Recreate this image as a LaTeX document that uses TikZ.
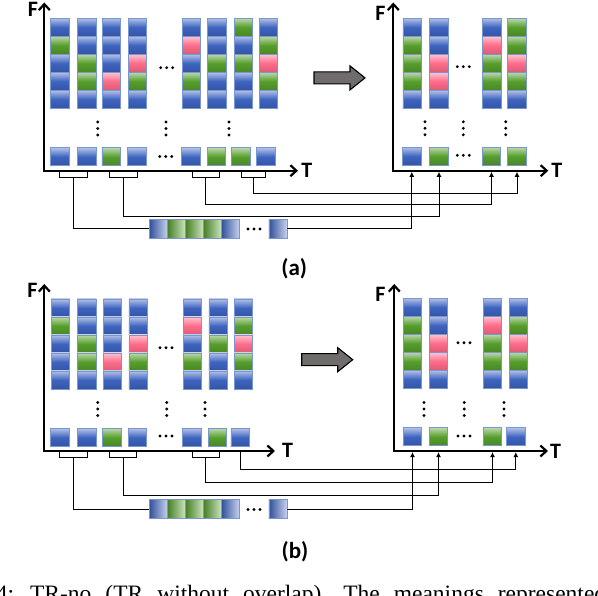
\documentclass[tikz,border=0pt]{standalone}
\usepackage{fontspec}
\setmainfont{Liberation Serif}
\newfontfamily\labfont{Carlito}
\usetikzlibrary{arrows.meta}
\definecolor{bl}{RGB}{62,100,192}
\definecolor{gr}{RGB}{86,158,44}
\definecolor{pk}{RGB}{255,108,138}
\definecolor{celledge}{RGB}{120,150,210}
\definecolor{arrowgray}{RGB}{112,108,108}

% one column of five cells, top to bottom
\newcommand\mycol[4]{%
  \foreach \col [count=\j] in {#4}
    \node[cell=\col] (#1-\j) at (#2,{#3+18*(\j-1)}) {};%
}
\newcommand\mydotsh[2]{%
  \foreach \k in {-6,0,6} \fill ({#1+\k},#2) circle (1.6pt);%
}
\newcommand\mydotsv[2]{%
  \foreach \k in {-6.5,0,6.5} \fill (#1,{#2+\k}) circle (1.6pt);%
}
\newcommand\mybigarrow[2]{%
  \draw[bigarrow] (#1,#2) ++(0,-6) -- ++(36,0) -- ++(0,-6) -- ++(15,12)
    -- ++(-15,12) -- ++(0,-6) -- ++(-36,0) -- cycle;%
}

\begin{document}
\begin{tikzpicture}[x=1pt,y=-1pt,
    cell/.style={draw=celledge,line width=0.6pt,inner sep=0pt,
      minimum width=18.5pt,minimum height=18pt,
      top color=#1!40!white,bottom color=#1!85!black,middle color=#1},
    strip/.style={draw=celledge,line width=0.6pt,inner sep=0pt,
      minimum width=18pt,minimum height=19pt,
      left color=#1!80!black,right color=#1!30!white},
    bracket/.style={minimum height=6pt,inner sep=0pt,minimum width=#1},
    axis/.style={line width=2.2pt,<->,>={Straight Barb[length=6pt,width=11pt]}},
    conn/.style={line width=1pt},
    link/.style={conn,-{Latex[length=5pt,width=5pt]},shorten >=1.1pt},
    axlabel/.style={font=\labfont\bfseries\fontsize{22}{22}\selectfont,inner sep=0pt},
    sublabel/.style={font=\labfont\bfseries\fontsize{23}{23}\selectfont,inner sep=0pt},
    bigarrow/.style={draw,line width=1.1pt,fill=arrowgray}]
    \useasboundingbox (0,0) rectangle (598,596);
    \clip (0,0) rectangle (598,596);

    % (a) left: frames before
    \coordinate (al0) at (44.3,170.7);
    \coordinate (alF) at (44.3,2.5);
    \coordinate (alT) at (298,170.7);
    \draw[axis] (alF) |- (alT);
    \node[axlabel] (alFl) at (32.8,9) {F};
    \node[axlabel] (alTl) at (306.7,170.8) {T};

    \mycol{al1}{60}{27.3}{bl,gr,bl,bl,bl}
    \mycol{al2}{86.7}{27.3}{bl,bl,gr,gr,bl}
    \mycol{al3}{111.5}{27.3}{bl,bl,bl,pk,bl}
    \mycol{al4}{137.5}{27.3}{bl,bl,pk,gr,bl}
    \mycol{al5}{191.5}{27.3}{bl,pk,bl,gr,bl}
    \mycol{al6}{216.7}{27.3}{bl,bl,gr,bl,bl}
    \mycol{al7}{243.3}{27.3}{gr,bl,gr,bl,bl}
    \mycol{al8}{268.5}{27.3}{bl,gr,pk,gr,bl}
    \foreach \x/\col [count=\i] in {60/bl,86.7/bl,111.2/gr,136.8/bl,
        190.8/bl,216.5/gr,240.8/gr,265.8/bl}
      \node[cell=\col] (alb\i) at (\x,156.8) {};

    \mydotsh{166.7}{67.7}
    \mydotsh{165.7}{156.5}
    \mydotsv{97.7}{128.5}
    \mydotsv{166}{128.5}
    \mydotsv{229}{128.5}

    % pairs of frames, no overlap
    \foreach \x/\w [count=\i] in {73.7/27.3pt,123.7/27.3pt,205.8/26.3pt,253.7/24pt}
    {
      \node[bracket=\w] (ak\i) at (\x,174.3) {};
      \draw[conn] (ak\i.north west) |- (ak\i.south) -| (ak\i.north east);
    }

    \foreach \x/\col [count=\i] in {158.3/bl,176.3/gr,194.3/gr,212.3/gr,
        230.3/bl,277.8/bl}
      \node[strip=\col] (as\i) at (\x,228.8) {};
    \mydotsh{254}{229}

    % (a) right: frames after
    \coordinate (ar0) at (393.3,170.7);
    \coordinate (arF) at (393.3,2.5);
    \coordinate (arT) at (548.3,170.7);
    \draw[axis] (arF) |- (arT);
    \node[axlabel] (arFl) at (380.5,13.5) {F};
    \node[axlabel] (arTl) at (556.7,170.8) {T};

    \mycol{ar1}{412.2}{27.3}{bl,gr,gr,gr,bl}
    \mycol{ar2}{438.7}{27.3}{bl,bl,pk,pk,bl}
    \mycol{ar3}{491.7}{27.3}{bl,pk,gr,gr,bl}
    \mycol{ar4}{516.7}{27.3}{gr,gr,pk,gr,bl}
    \foreach \x/\col [count=\i] in {411.8/bl,439/gr,491.5/gr,517/gr}
      \node[cell=\col] (arb\i) at (\x,156.2) {};

    \mydotsh{463.3}{66.7}
    \mydotsh{463.3}{155.3}
    \mydotsv{425}{128.3}
    \mydotsv{463.3}{128.3}
    \mydotsv{505.7}{128.3}

    \mybigarrow{314}{77.9}

    \draw[conn] (ak1.south) |- (as1.west);
    \draw[link] (as6.east) -| (arb1 |- ar0);
    \draw[link] (ak2.south) -- ++(0,38.7) -| (arb2 |- ar0);
    \draw[link] (ak3.south) -- ++(0,26.7) -| (arb3 |- ar0);
    \draw[link] (ak4.south) -- ++(0,16) -| (arb4 |- ar0);

    \node[sublabel] (la) at (294.3,268.8) {(a)};

    % (b) left: frames before
    \coordinate (bl0) at (44.3,451);
    \coordinate (blF) at (44.3,284);
    \coordinate (blT) at (275,451);
    \draw[axis] (blF) |- (blT);
    \node[axlabel] (blFl) at (32.5,290.8) {F};
    \node[axlabel] (blTl) at (287.5,450) {T};

    \mycol{bl1}{60.3}{308}{bl,gr,bl,bl,bl}
    \mycol{bl2}{86.7}{308}{bl,bl,gr,gr,bl}
    \mycol{bl3}{112.5}{308}{bl,bl,bl,pk,bl}
    \mycol{bl4}{138.2}{308}{bl,bl,pk,gr,bl}
    \mycol{bl5}{192.5}{308}{bl,pk,bl,gr,bl}
    \mycol{bl6}{218.2}{308}{bl,bl,gr,bl,bl}
    \mycol{bl7}{243.3}{308}{bl,gr,pk,gr,bl}
    \foreach \x/\col [count=\i] in {60/bl,86.7/bl,111.7/gr,137.5/bl,
        191.8/bl,217.5/gr,240.2/bl}
      \node[cell=\col] (blb\i) at (\x,437.5) {};

    \mydotsh{166}{347.7}
    \mydotsh{166}{436}
    \mydotsv{97.7}{409}
    \mydotsv{166.7}{409}
    \mydotsv{205}{409}

    % last frame has no partner
    \foreach \x/\w [count=\i] in {73.7/27.3pt,123/27.3pt,205.8/27pt}
    {
      \node[bracket=\w] (bk\i) at (\x,454.3) {};
      \draw[conn] (bk\i.north west) |- (bk\i.south) -| (bk\i.north east);
    }

    \foreach \x/\col [count=\i] in {158.3/bl,176.3/gr,194.3/gr,212.3/gr,
        230.3/bl,277.8/bl}
      \node[strip=\col] (bs\i) at (\x,509.2) {};
    \mydotsh{254}{509.5}

    % (b) right: frames after
    \coordinate (br0) at (394.3,451);
    \coordinate (brF) at (394.3,284);
    \coordinate (brT) at (548,451);
    \draw[axis] (brF) |- (brT);
    \node[axlabel] (brFl) at (380.5,294) {F};
    \node[axlabel] (brTl) at (555.5,451) {T};

    \mycol{br1}{412.5}{307.3}{bl,gr,gr,gr,bl}
    \mycol{br2}{438.5}{307.3}{bl,bl,pk,pk,bl}
    \mycol{br3}{492.5}{307.3}{bl,pk,gr,gr,bl}
    \mycol{br4}{518.5}{307.3}{bl,gr,pk,gr,bl}
    \foreach \x/\col [count=\i] in {412.5/bl,438.5/gr,492.5/gr,515.8/bl}
      \node[cell=\col] (brb\i) at (\x,436.8) {};

    \mydotsh{464}{342.7}
    \mydotsh{464}{436}
    \mydotsv{424}{409}
    \mydotsv{464.3}{409}
    \mydotsv{504}{409}

    \mybigarrow{301.7}{359.7}

    \draw[conn] (bk1.south) |- (bs1.west);
    \draw[link] (bs6.east) -| (brb1 |- br0);
    \draw[link] (bk2.south) -- ++(0,37.7) -| (brb2 |- br0);
    \draw[link] (bk3.south) -- ++(0,25) -| (brb3 |- br0);
    \draw[link] (blb7 |- bl0) -- ++(0,19) -| (brb4 |- br0);

    \node[sublabel] (lb) at (295,551.7) {(b)};

    % caption, cut by the frame
    \node[anchor=base west,inner sep=0pt,font=\fontsize{23.5}{28}\selectfont]
      (cap) at (-4.3,601.5)
      {\spaceskip=14pt\relax 4: TR-no (TR without overlap). The meanings represented};
\end{tikzpicture}
\end{document}
